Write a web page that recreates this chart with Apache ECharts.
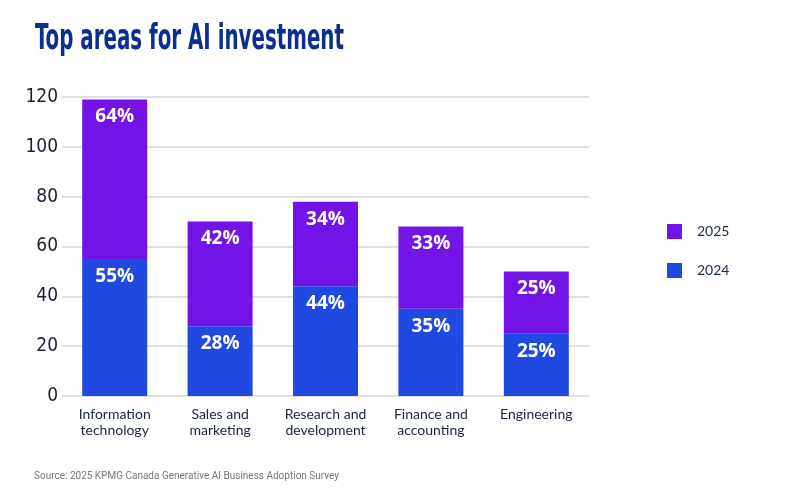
<!DOCTYPE html>
<html><head><meta charset="utf-8">
<script src="https://cdn.jsdelivr.net/npm/echarts@6/dist/echarts.min.js"></script>
<style>html,body{margin:0;padding:0;background:#fff}#c{width:800px;height:500px}</style>
</head><body><div id="c"></div>
<script>
const categories = ['Information\ntechnology','Sales and\nmarketing','Research and\ndevelopment','Finance and\naccounting','Engineering'];
const values2024 = [55, 28, 44, 35, 25];
const values2025 = [64, 42, 34, 33, 25];
const yTicks = [0, 20, 40, 60, 80, 100, 120];

const narrow = '"DejaVu Sans Condensed", "Liberation Sans Narrow", "Roboto", sans-serif';
const chart = echarts.init(document.getElementById('c'), null, {renderer:'canvas'});
const labelStyle = {
  show: true, position: 'insideTop', distance: 8,
  color: '#fff', fontFamily: 'Open Sans', fontWeight: 'bold', fontSize: 19,
  formatter: p => p.value + '%'
};
chart.setOption({
  animation: false,
  graphic: [{
    type: 'text', left: 35, top: 22, scaleX: 0.63, scaleY: 1, originX: 0, originY: 0,
    style: {text: 'Top areas for AI investment', fontFamily: narrow, fontWeight: 'bold', fontSize: 35, fill: '#0c2f8f'}
  }],
  title: [{
    text: 'Source: 2025 KPMG Canada Generative AI Business Adoption Survey', left: 29, top: 466,
    textStyle: {fontFamily: 'Roboto', fontWeight: 'normal', fontSize: 10, color: '#777'}
  }],
  legend: {
    orient: 'vertical', left: 662, top: 219, itemWidth: 15, itemHeight: 15, itemGap: 24,
    icon: 'rect', data: ['2025','2024'],
    textStyle: {fontFamily: 'Lato', fontSize: 14, color: '#1d2a45', padding: [0,0,0,10]}
  },
  grid: {left: 62, right: 211, top: 97, bottom: 104},
  xAxis: {
    type: 'category', data: categories,
    axisLine: {show: false}, axisTick: {show: false},
    axisLabel: {fontFamily: 'Lato', fontSize: 14, color: '#1a2540', margin: 10, lineHeight: 16, interval: 0}
  },
  yAxis: {
    type: 'value', min: yTicks[0], max: yTicks[yTicks.length-1], interval: 20,
    axisLabel: {fontFamily: narrow, fontSize: 19, color: '#1a1f36', margin: 4},
    splitLine: {lineStyle: {color: '#e0e0e0', width: 2}},
    axisLine: {show: false}, axisTick: {show: false}
  },
  series: [
    {name: '2024', type: 'bar', stack: 's', data: values2024, barWidth: 65,
     itemStyle: {color: '#1f49e1'}, label: labelStyle},
    {name: '2025', type: 'bar', stack: 's', data: values2025, barWidth: 65,
     itemStyle: {color: '#7314e6'}, label: labelStyle}
  ]
});
</script></body></html>
